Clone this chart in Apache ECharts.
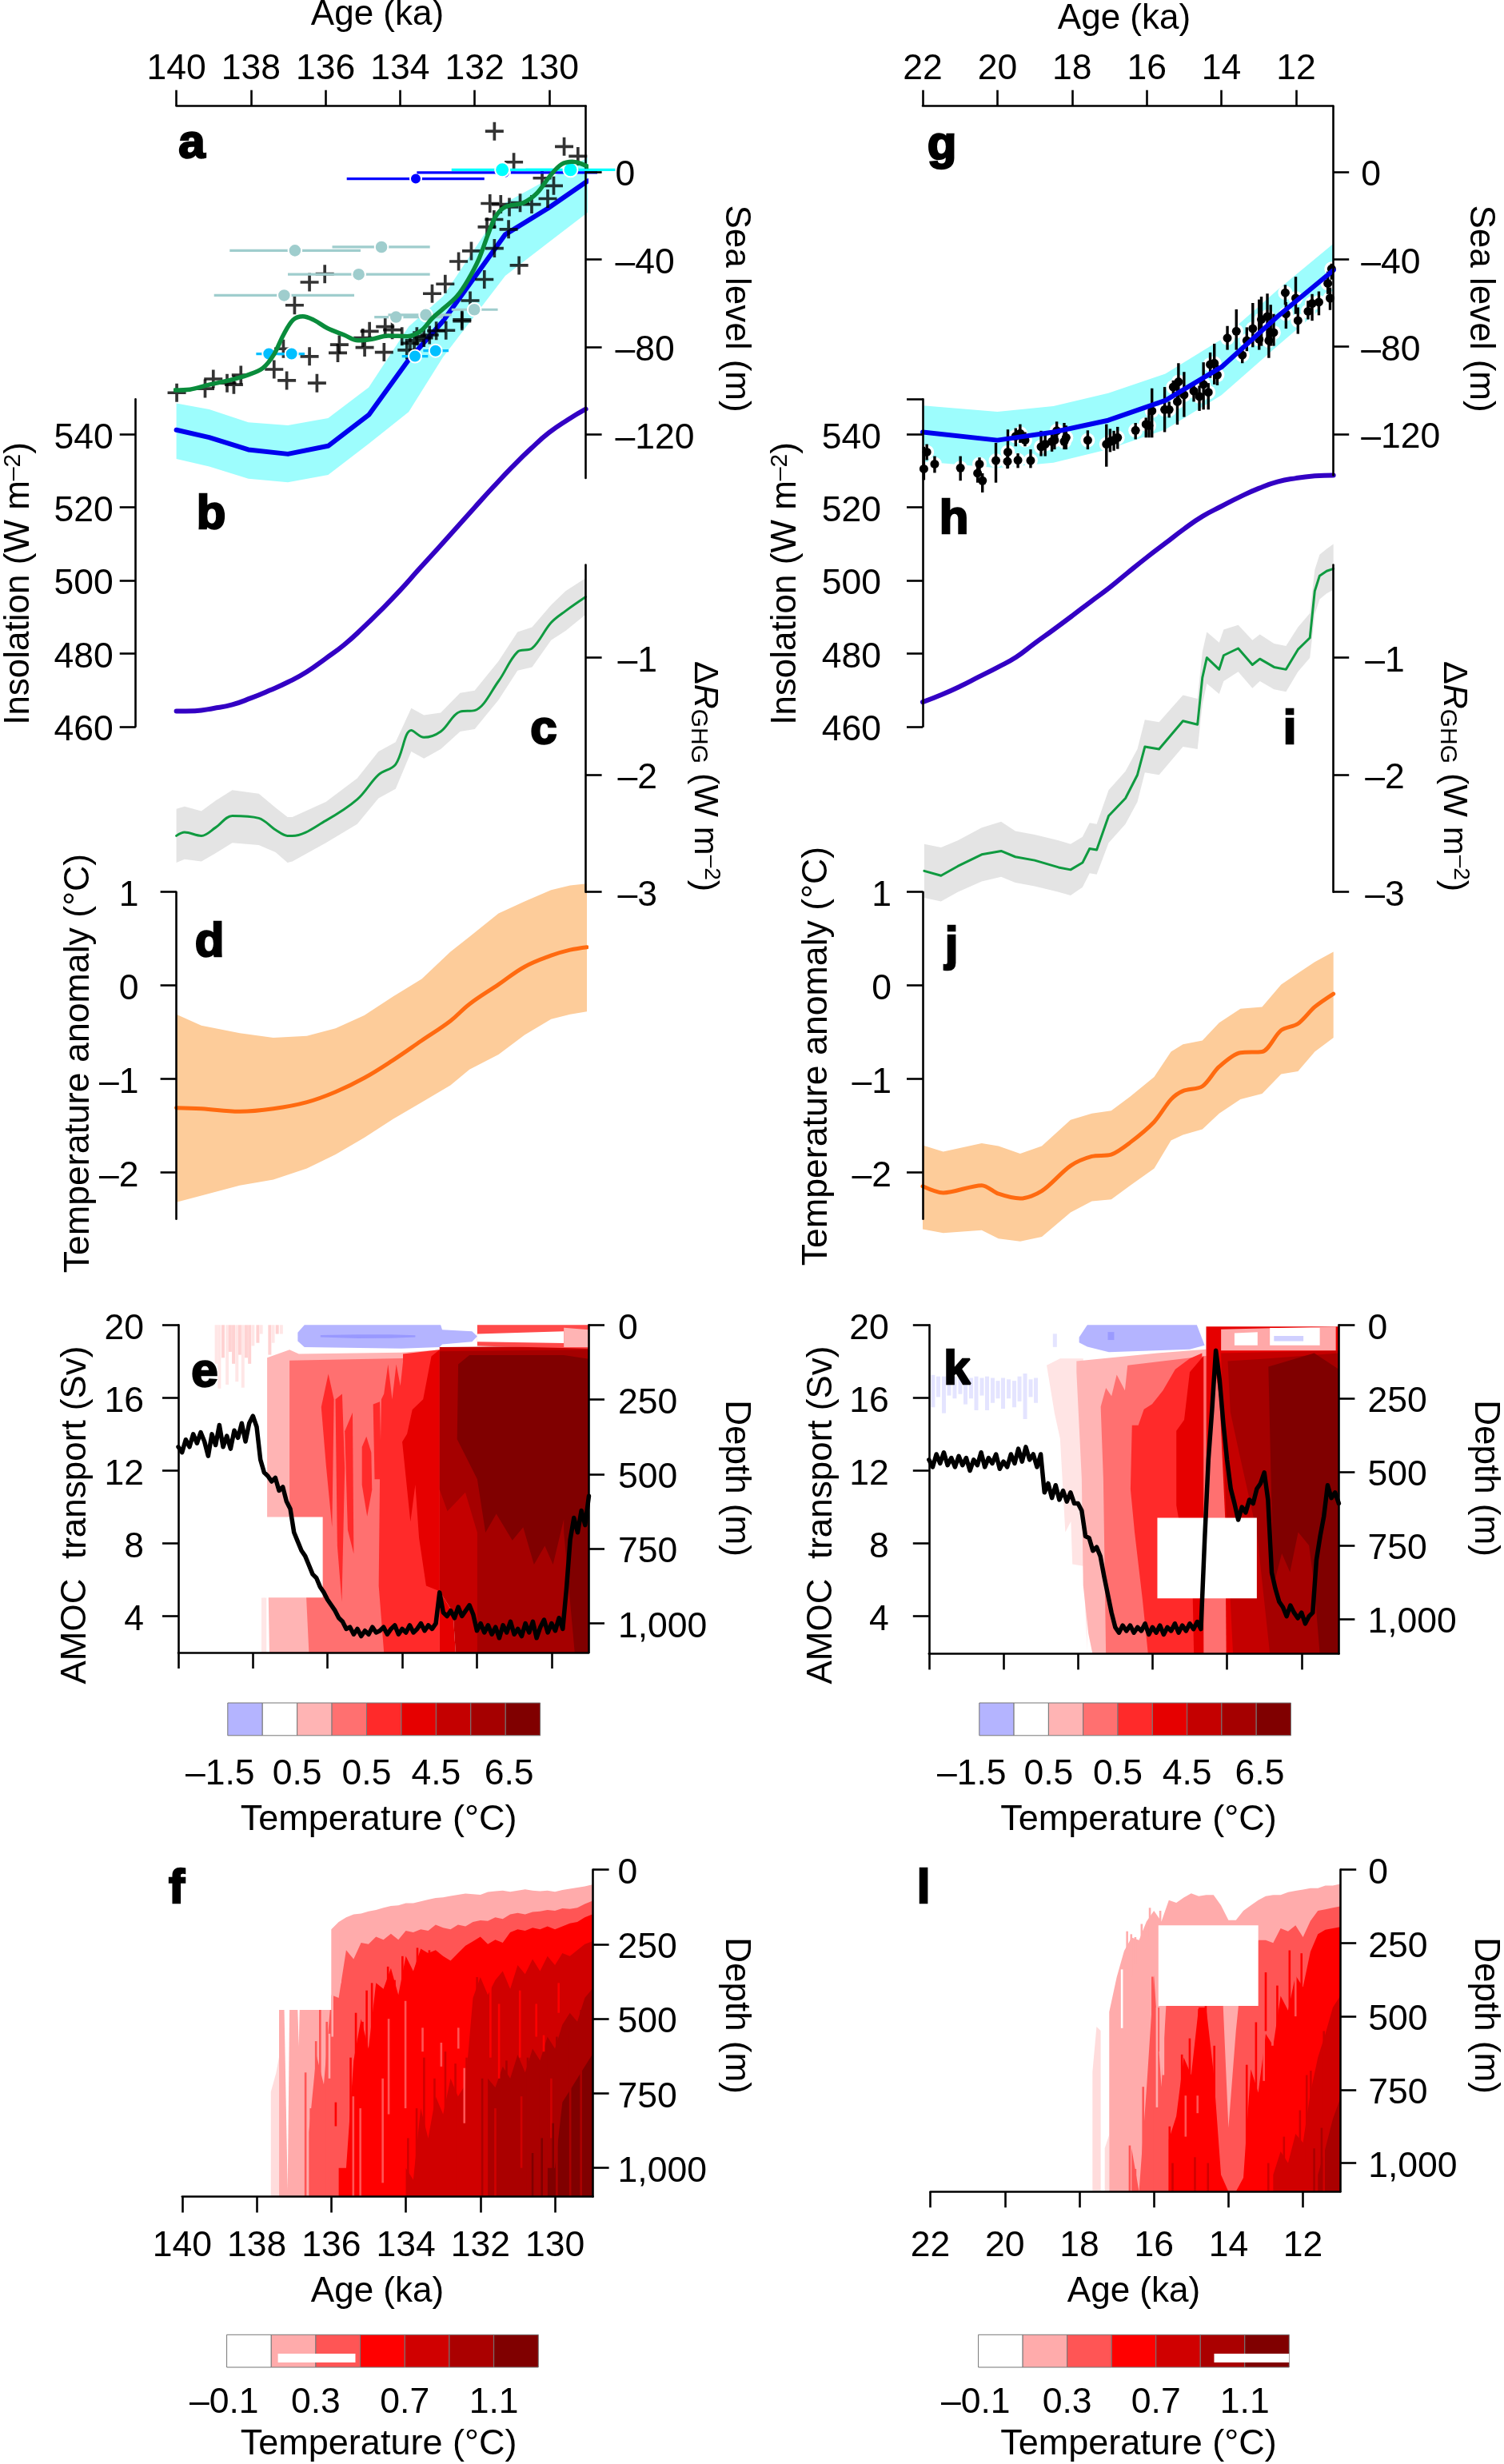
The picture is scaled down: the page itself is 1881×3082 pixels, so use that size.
<!DOCTYPE html>
<html><head><meta charset="utf-8">
<style>html,body{margin:0;padding:0;background:#fff}#c{width:1881px;height:3082px}</style>
<script src="https://cdn.jsdelivr.net/npm/echarts@6/dist/echarts.min.js"></script>
</head><body><div id="c"></div>
<script>
// ---- Panel a : sea level, penultimate deglaciation
const aCrossAge=[139.99,139.23,139.01,138.64,138.46,138.27,137.38,137.04,137.13,136.43,136.23,136.83,136.43,136.02,135.63,135.67,135.0,134.95,134.43,134.82,134.4,134.21,133.95,133.82,133.73,133.62,133.55,133.36,133.21,133.03,132.77,132.34,132.34,132.12,133.14,132.79,132.43,132.09,131.47,131.74,130.81,131.09,131.67,131.48,131.59,131.3,131.07,130.78,130.47,130.04,129.88,130.19,130.95,131.47,129.6,129.23];
const aCrossSea=[-101,-99.1,-94.7,-96.6,-97.3,-92.9,-90.3,-95.4,-80.9,-84.4,-96.6,-61,-50.5,-46.7,-79,-82.8,-75.9,-80.3,-82.5,-72.9,-70.8,-72.3,-75.2,-81.5,-78.4,-77.1,-75.2,-75.9,-74.6,-72.7,-72.5,-68.3,-67.6,-58.9,-55.7,-51.3,-41,-36.2,-35,-49.2,-42.8,-26.3,-25.2,-21.8,-14.5,-14.9,-16.1,-14.2,-14.9,-12.3,-6.4,-2.9,4.4,18.5,11.5,7.1];
const aBlueAge=[140.0,139.12,138.07,137.01,135.93,134.84,133.77,132.85,131.18,130.04,128.97];
const aBlueSea=[-118,-121.4,-127,-129,-125.3,-111.1,-85.9,-68.3,-28.7,-16.8,-4.2];
const aBandTop=[-105.8,-108.6,-114.5,-115.9,-112.6,-98.5,-70.8,-57,-14.2,-3.5,6.5];
const aBandBot=[-131.2,-134.7,-140.3,-141.9,-138.5,-124.3,-109.8,-84.7,-47.6,-32.6,-18.6];
const aGreenAge=[140.04,139.64,139.12,138.6,138.09,137.68,137.38,137.13,136.87,136.61,136.32,135.95,135.5,135.13,134.76,134.32,133.81,133.44,133.14,132.85,132.48,132.18,131.89,131.63,131.44,131.18,130.7,130.33,129.97,129.67,129.38,128.97];
const aGreenSea=[-99.8,-99.5,-97.3,-95.4,-92.9,-89.7,-83.4,-74.6,-67.7,-66.1,-67.7,-71.5,-74.6,-77.1,-76.5,-75,-75.2,-72.7,-67,-62.7,-57,-49.5,-40,-28.1,-20.5,-16.1,-14.2,-9.8,-1.7,3.4,4.6,2.4];
// each row: age, sea level, old age limit, young age limit
const aTealBars=[[136.82,-36,138.57,135.06],[134.5,-34.4,135.82,133.2],[135.11,-46.9,137.01,133.2],[137.11,-56.5,138.99,135.23],[134.11,-66.4,134.69,132.85],[133.31,-65.4,134.32,132.62],[132.01,-63,132.62,131.38]];
const aSkyBars=[[137.52,-83.2,137.86,137.13],[136.91,-83.2,137.27,136.56],[133.6,-84.3,133.95,133.25],[133.05,-81.8,133.38,132.7]];
const aBlueBars=[[133.58,-3.2,135.43,131.74],[131.2,-0.4,133.55,128.71]];
const aCyanBars=[[131.26,0.9,132.62,129.9],[129.43,0.9,130.63,128.23]];
// ---- Panel g : sea level, last deglaciation
const gBlueAge=[22.0,20.0,18.5,17.03,15.5,14.0,12.5,11.0];
const gBlueSea=[-119,-122.7,-119,-113.6,-104.5,-89.3,-66.2,-45];
const gBandTop=[-106.9,-109.7,-107.1,-101.2,-92.3,-76.6,-54.1,-32.9];
const gBandBot=[-132.4,-135.4,-133,-126.9,-117.8,-102.1,-79.6,-57.7];
const gPtAge=[21.97,21.89,21.68,20.99,20.48,20.53,20.4,20.04,19.72,19.73,19.45,19.51,19.39,19.26,19.11,18.83,18.72,18.54,18.41,18.47,18.21,18.16,17.58,17.08,16.98,16.88,16.78,16.3,16.02,15.86,15.94,15.52,15.4,15.29,15.15,15.18,15.0,14.74,14.59,14.48,14.35,14.3,14.19,14.11,13.84,13.6,13.44,13.32,13.16,12.99,12.93,12.77,12.68,12.73,12.6,12.29,12.27,12.01,11.95,11.68,11.57,11.39,11.15,11.09,11.05];
const gPtSea=[-135.8,-128.1,-133.6,-135.4,-133.6,-137.8,-141.2,-132,-128.1,-132.4,-131.8,-120.9,-119.6,-122.7,-132,-125.7,-124.5,-123.3,-118.4,-122.7,-123.3,-121.5,-122.7,-124.5,-123.3,-122.7,-121.5,-118.2,-115.4,-109.3,-116,-108.7,-108.7,-98.4,-96,-105.1,-102,-100.2,-102.7,-97.2,-100.8,-88.1,-87.5,-92.9,-76,-72.9,-83.8,-77.2,-71.7,-76.6,-67.5,-66.2,-73.5,-77.2,-73.5,-55.3,-65,-57.8,-68,-63.8,-60.2,-59.6,-51,-57.8,-44.4];
const gPtHigh=[-125.7,-124.5,-130,-130,-130.6,-134.2,-137.8,-123.9,-117.8,-126.9,-128.7,-117.2,-115.4,-119,-126.9,-118.4,-119,-118.4,-114.2,-118.4,-114.8,-116,-118.2,-115.4,-117.5,-118.4,-116.6,-114.8,-112.4,-99,-109.9,-98.4,-105.1,-95.4,-87.5,-96.6,-91.5,-97.2,-97.8,-87.1,-96.6,-82.6,-78.6,-88.1,-70.5,-62.9,-80.2,-71.1,-60,-58.4,-57.1,-55.7,-60.8,-71.1,-65,-51.7,-59.6,-48,-62,-59,-55.9,-54.7,-45.6,-52.9,-42];
const gPtLow=[-140.9,-131.8,-137.6,-141.2,-136.6,-142.1,-146.6,-142.1,-135.4,-135.7,-135.4,-125.5,-123.9,-125.5,-135.4,-130,-130,-127.9,-123.3,-126.9,-126.9,-126.9,-126.9,-134.8,-128.1,-127.5,-126.7,-122.3,-121.5,-121.5,-121.5,-119,-112.4,-102.7,-105.1,-115.6,-112.1,-105.1,-109.3,-108.7,-108.7,-94.2,-97.2,-97.6,-81.4,-81.4,-87.5,-82,-80.2,-81.4,-79.6,-77.8,-79.6,-85.1,-79.6,-60.8,-71.7,-65,-74.1,-67.5,-68.1,-65.6,-55.9,-63.2,-49.3];
// ---- Panels b, h : insolation
const bAge=[140,139.5,139,138.5,138,137.5,137,136.5,136,135.5,135,134.5,134,133.5,133,132.5,132,131.5,131,130.5,130,129.5,129.02];
const bInsol=[464.2,464.3,465,466,467.8,469.9,472.2,475,478.6,482.4,487,492,497.3,503,508.6,514.3,520,525.6,531,536,540.5,544,546.9];
const hAge=[22,21.5,21,20.5,20,19.5,19,18.5,18,17.5,17,16.5,16,15.5,15,14.5,14,13.5,13,12.5,12,11.5,11];
const hInsol=[466.7,468.7,471,473.6,476.2,479,482.8,486.5,490.3,494.2,498,502.2,506.3,510.2,514.1,517.6,520.3,522.9,525.2,527,528,528.6,528.8];
// ---- Panels c, i : greenhouse gas forcing
const cAge=[129.02,129.56,129.95,130.46,130.85,131.36,132,132.39,132.91,133.36,133.7,134.12,134.58,135.15,135.99,136.89,137.02,137.34,137.79,138.5,138.95,139.33,139.78,140];
const cMean=[-0.48,-0.6,-0.7,-0.92,-0.95,-1.2,-1.45,-1.46,-1.63,-1.68,-1.62,-1.91,-2,-2.21,-2.39,-2.52,-2.52,-2.47,-2.37,-2.35,-2.45,-2.52,-2.49,-2.52];
const cTop=[-0.32,-0.43,-0.55,-0.74,-0.78,-1.03,-1.28,-1.3,-1.47,-1.49,-1.43,-1.72,-1.8,-2.03,-2.23,-2.36,-2.36,-2.28,-2.16,-2.13,-2.22,-2.31,-2.27,-2.29];
const cBot=[-0.63,-0.77,-0.85,-1.08,-1.11,-1.36,-1.61,-1.63,-1.78,-1.86,-1.8,-2.12,-2.2,-2.42,-2.58,-2.74,-2.75,-2.66,-2.6,-2.58,-2.67,-2.74,-2.72,-2.75];
const iAge=[11.0,11.18,11.37,11.5,11.63,11.95,12.27,12.59,12.97,13.17,13.55,13.94,14.06,14.39,14.51,14.64,15.03,15.67,16.05,16.25,16.57,17.02,17.34,17.53,17.72,18.04,18.36,19.0,19.52,19.9,20.42,21.06,21.51,21.96];
const iMean=[-0.24,-0.26,-0.3,-0.43,-0.83,-0.93,-1.1,-1.08,-1.01,-1.06,-0.92,-0.98,-1.1,-1,-1.17,-1.57,-1.54,-1.78,-1.76,-2,-2.2,-2.35,-2.64,-2.63,-2.75,-2.81,-2.79,-2.73,-2.7,-2.65,-2.68,-2.78,-2.86,-2.82];
const iTop=[-0.03,-0.07,-0.12,-0.25,-0.62,-0.74,-0.9,-0.88,-0.8,-0.85,-0.72,-0.76,-0.87,-0.78,-0.95,-1.35,-1.32,-1.55,-1.53,-1.78,-1.97,-2.13,-2.42,-2.41,-2.53,-2.59,-2.56,-2.51,-2.48,-2.4,-2.45,-2.56,-2.62,-2.59];
const iBot=[-0.42,-0.45,-0.5,-0.63,-1.0,-1.12,-1.29,-1.27,-1.2,-1.26,-1.12,-1.2,-1.31,-1.22,-1.4,-1.78,-1.76,-2.0,-1.98,-2.23,-2.42,-2.58,-2.85,-2.84,-2.96,-3.03,-3.0,-2.95,-2.92,-2.87,-2.91,-3.0,-3.08,-3.05];
// ---- Panels d, j : temperature anomaly
const dAge=[140,139.33,138.3,137.4,136.5,135.73,134.96,134.19,133.42,132.65,132.14,131.36,130.66,129.95,129.44,128.99];
const dMean=[-1.31,-1.32,-1.35,-1.32,-1.25,-1.14,-0.99,-0.8,-0.59,-0.38,-0.2,0.01,0.2,0.32,0.38,0.41];
const dTop=[-0.31,-0.43,-0.51,-0.56,-0.54,-0.46,-0.32,-0.12,0.07,0.36,0.52,0.77,0.9,1.02,1.07,1.09];
const dBot=[-2.32,-2.25,-2.14,-2.08,-1.96,-1.81,-1.63,-1.43,-1.25,-1.07,-0.9,-0.74,-0.53,-0.36,-0.31,-0.28];
const jAge=[22,21.45,20.42,19.97,19.39,18.81,18.04,17.47,16.95,16.44,15.8,15.35,15.03,14.51,14.06,13.49,12.91,12.4,11.95,11.5,11.0];
const jMean=[-2.15,-2.22,-2.14,-2.23,-2.28,-2.2,-1.93,-1.83,-1.81,-1.68,-1.46,-1.22,-1.13,-1.08,-0.87,-0.72,-0.71,-0.48,-0.41,-0.23,-0.09];
const jTop=[-1.71,-1.78,-1.69,-1.72,-1.8,-1.72,-1.44,-1.37,-1.34,-1.19,-0.98,-0.71,-0.63,-0.59,-0.4,-0.25,-0.23,0.01,0.13,0.25,0.36];
const jBot=[-2.61,-2.65,-2.62,-2.71,-2.74,-2.69,-2.43,-2.31,-2.29,-2.14,-1.96,-1.66,-1.6,-1.54,-1.37,-1.22,-1.16,-0.95,-0.92,-0.71,-0.56];
// ---- Panels e, k : AMOC transport, one reading per 0.1 ka
const eAges=[140.0,139.9,139.8,139.7,139.6,139.5,139.4,139.3,139.2,139.1,139.0,138.9,138.8,138.7,138.6,138.5,138.4,138.3,138.2,138.1,138.0,137.9,137.8,137.7,137.6,137.5,137.4,137.3,137.2,137.1,137.0,136.9,136.8,136.7,136.6,136.5,136.4,136.3,136.2,136.1,136.0,135.9,135.8,135.7,135.6,135.5,135.4,135.3,135.2,135.1,135.0,134.9,134.8,134.7,134.6,134.5,134.4,134.3,134.2,134.1,134.0,133.9,133.8,133.7,133.6,133.5,133.4,133.3,133.2,133.1,133.0,132.9,132.8,132.7,132.6,132.5,132.4,132.3,132.2,132.1,132.0,131.9,131.8,131.7,131.6,131.5,131.4,131.3,131.2,131.1,131.0,130.9,130.8,130.7,130.6,130.5,130.4,130.3,130.2,130.1,130.0,129.9,129.8,129.7,129.6,129.5,129.4,129.3,129.2,129.1,129.0];
const eAmoc=[13.3,13.0,13.7,13.3,14.0,13.5,14.1,13.6,12.8,14.0,13.4,14.5,13.3,13.9,13.2,14.2,13.8,14.6,13.6,14.6,15.0,14.4,12.6,11.9,11.7,11.4,11.6,10.9,11.1,10.3,9.9,8.6,8.1,7.6,7.3,6.8,6.3,6.1,5.6,5.3,4.9,4.6,4.3,3.9,3.7,3.3,3.4,3.0,3.3,2.9,3.2,3.0,3.4,3.1,3.2,3.4,3.0,3.3,3.5,3.0,3.3,3.1,3.5,3.1,3.3,3.6,3.2,3.5,3.3,3.6,5.3,4.2,4.0,4.3,3.9,4.5,4.0,4.3,4.6,4.1,3.2,3.6,3.1,3.5,3.0,3.4,2.8,3.5,3.1,3.7,3.0,3.3,2.9,3.6,3.1,3.7,2.8,3.4,3.8,3.1,3.6,3.2,3.9,3.3,5.5,8.2,9.4,8.6,9.8,9.0,10.6];
const kAges=[22.0,21.9,21.8,21.7,21.6,21.5,21.4,21.3,21.2,21.1,21.0,20.9,20.8,20.7,20.6,20.5,20.4,20.3,20.2,20.1,20.0,19.9,19.8,19.7,19.6,19.5,19.4,19.3,19.2,19.1,19.0,18.9,18.8,18.7,18.6,18.5,18.4,18.3,18.2,18.1,18.0,17.9,17.8,17.7,17.6,17.5,17.4,17.3,17.2,17.1,17.0,16.9,16.8,16.7,16.6,16.5,16.4,16.3,16.2,16.1,16.0,15.9,15.8,15.7,15.6,15.5,15.4,15.3,15.2,15.1,15.0,14.9,14.8,14.7,14.6,14.5,14.4,14.3,14.2,14.1,14.0,13.9,13.8,13.7,13.6,13.5,13.4,13.3,13.2,13.1,13.0,12.9,12.8,12.7,12.6,12.5,12.4,12.3,12.2,12.1,12.0,11.9,11.8,11.7,11.6,11.5,11.4,11.3,11.2,11.1,11.0];
const kAmoc=[12.6,12.2,12.9,12.4,13.0,12.3,12.7,12.2,12.8,12.3,12.7,12.0,12.6,12.3,13.0,12.2,12.7,12.4,12.9,12.1,12.5,12.2,12.9,12.4,13.2,12.5,13.3,12.6,12.9,12.2,12.9,10.8,11.3,10.5,11.2,10.4,10.9,10.3,10.8,10.2,10.2,9.8,8.4,8.3,7.6,7.8,7.3,6.2,5.2,4.2,3.4,3.1,3.5,3.2,3.5,3.1,3.4,3.2,3.6,3.0,3.4,3.1,3.5,3.0,3.4,3.2,3.6,3.1,3.5,3.2,3.6,3.3,3.7,3.3,8.2,12.6,15.4,18.6,17,14.6,12.6,11.0,10.2,9.3,10.0,9.7,10.4,10.2,11.0,11.3,11.9,10.4,6.4,5.5,4.8,4.5,4.0,4.6,4.2,3.9,4.2,3.6,4.0,4.2,7.1,8.4,9.5,11.2,10.5,10.8,10.2];
// ---- Panel e field : contour outlines as [age, depth]
const eL2=[[137.62,110],[137.02,83],[136.77,97],[134.02,92],[133,83],[133,1098],[137.56,1098],[137.62,640]];
const eL3=[[137.02,119],[134,112],[133,90],[133,1098],[136.5,1098],[136.57,914],[137.02,640]];
const eL4=[[133.98,123],[134.05,204],[134.16,132],[134.27,249],[134.38,132],[134.49,231],[134.56,249],[134.6,517],[134.63,874],[134.49,1098],[133,1098],[133,83],[133.98,97]];
const eFingerA=[[136.17,275],[135.98,164],[135.83,249],[135.88,678],[136.04,472]];
const eFingerB=[[135.79,249],[135.61,231],[135.54,481],[135.62,928],[135.74,740]];
const eFingerC=[[135.54,356],[135.33,293],[135.3,767],[135.46,687]];
const eFingerD=[[135.08,409],[134.96,374],[134.83,427],[134.81,552],[134.94,642],[135.08,535]];
const eFingerE=[[134.78,266],[134.6,257],[134.56,517],[134.74,517]];
const eL5=[[133,83],[133.22,105],[133.44,249],[133.73,284],[133.87,365],[134,392],[133.78,660],[133.65,535],[133.55,714],[133.36,874],[133,892]];
const eL5b=[[133,892],[132.64,964],[132.57,1098],[133,1098]];
const eL6=[[133,74],[129,70],[129,1098],[132.57,1098],[132.64,964],[133,892]];
const eL7=[[133,88],[129,83],[129,1098],[131.99,1098],[131.99,696],[132.31,561],[132.79,624],[133,552]];
const eL8=[[132.5,132],[132.2,101],[129.67,101],[129,114],[129,1098],[129.38,1098],[129.67,696],[129.67,651],[129.96,803],[130.18,740],[130.47,803],[130.76,678],[131.05,722],[131.48,633],[131.77,696],[131.99,517],[132.28,445],[132.53,383]];
const eTopRed=[[131.99,0],[129,0],[129,79],[131.99,70]];
const eTopWhite=[[131.99,30],[129.67,21],[129.67,61],[131.99,56]];
const eTopPink=[[129.67,9],[129,16],[129,74],[129.67,74]];
const eBlue=[[136.8,25],[136.62,0],[132.97,0],[132.93,16],[132.13,21],[131.99,38],[132.13,56],[132.93,65],[133,74],[134.02,79],[136.62,74],[136.8,54]];
const eBlueDeep=[[136.19,34],[135.2,32],[134.3,32],[133.65,35],[133.65,41],[134.3,44],[135.2,45],[136.19,41]];
const eMask=[[140,644],[136.13,644],[136.13,914],[140,914]];
const eStreaks=[[138.98,0,130,1],[138.9,0,213,1],[138.8,0,110,0],[138.69,0,200,1],[138.61,0,90,0],[138.52,0,130,0],[138.43,0,190,1],[138.35,0,100,0],[138.27,0,210,1],[138.18,0,110,0],[138.09,0,130,0],[138.0,0,70,1],[137.87,0,60,0],[137.78,0,30,1],[137.55,0,100,0],[137.46,0,60,1],[137.35,0,30,0],[137.24,0,30,1],[137.73,914,1098,1],[137.68,914,1098,1]];
// ---- Panel k field
const kPale=[[18.84,137],[18.48,114],[17.86,114],[17.75,1113],[17.86,820],[18.15,814],[18.19,668],[18.34,705],[18.48,387],[18.63,300]];
const kL2=[[18.04,123],[15.87,96],[14.56,83],[14.56,1118],[17.61,1118],[17.72,1050],[17.86,886],[17.9,523],[18.04,160]];
const kL3=[[17.39,278],[17.25,214],[17.1,242],[16.96,169],[16.74,223],[16.67,137],[14.56,105],[14.56,1118],[17.25,1118],[17.32,523]];
const kL4=[[16.23,287],[16.01,269],[15.72,223],[15.39,151],[15,114],[14.67,96],[14.63,1118],[16.12,1118],[16.27,932],[16.48,705],[16.59,559],[16.55,341],[16.38,341]];
const kL5=[[15.36,360],[15.15,323],[15,160],[14.63,105],[14.63,1118],[14.89,1118],[14.92,930],[15.36,614]];
const kRBase=[[14.56,5],[11,5],[11,1118],[14.56,1118]];
const kChannel=[[14.3,160],[14.2,251],[14.05,659],[14.02,1118],[14.6,1118],[14.49,523],[14.38,251]];
const kR6=[[14.16,96],[11,87],[11,1118],[13.84,1118],[14.02,659],[14.13,251]];
const kR7=[[13.98,123],[12.89,114],[11,96],[11,1118],[12.85,1118],[13.2,705],[13.68,432],[13.91,296]];
const kR8=[[12.89,142],[11.66,96],[11,151],[11,1118],[11.51,1118],[11.66,886],[11.8,750],[12.09,705],[12.31,841],[12.53,777],[12.75,886],[12.82,523]];
const kTopPink=[[14.16,15],[11.08,5],[11.08,87],[14.16,87]];
const kTopWhiteA=[[13.8,28],[13.18,24],[13.18,69],[13.8,69]];
const kTopWhiteB=[[12.85,10],[11.51,10],[11.51,69],[12.85,69]];
const kTopBlueB=[[12.74,37],[11.95,37],[11.95,55],[12.74,55]];
const kBlue=[[17.97,42],[17.75,0],[14.81,0],[14.6,69],[15,83],[17.17,92],[17.75,74],[17.97,60]];
const kBlueDeep=[[17.2,24],[17.03,24],[17.03,51],[17.2,51]];
const kMask=[[15.87,656],[13.2,656],[13.2,930],[15.87,930]];
const kStreaks=[[21.89,170,280],[21.75,175,245],[21.6,175,300],[21.46,190,240],[21.31,175,250],[21.16,180,235],[21.02,185,270],[20.87,180,250],[20.73,175,290],[20.58,180,240],[20.44,175,290],[20.29,180,265],[20.15,190,250],[20.01,180,285],[19.86,185,250],[19.71,190,280],[19.57,175,260],[19.42,165,320],[19.27,185,245],[19.13,180,265],[18.62,30,75]];
// ---- Panels f, l field : depth of each isotherm per age column (lists end at the youngest column)
const fAges=[137.8,137.6,137.4,137.2,137.0,136.8,136.6,136.4,136.2,136.0,135.8,135.6,135.4,135.2,135.0,134.8,134.6,134.4,134.2,134.0,133.8,133.6,133.4,133.2,133.0,132.8,132.6,132.4,132.2,132.0,131.8,131.6,131.4,131.2,131.0,130.8,130.6,130.4,130.2,130.0,129.8,129.6,129.4,129.2,129.0];
const fPink=[470,470,470,470,470,470,200,200,175,160,150,147,140,135,128,122,120,112,112,106,100,95,93,88,84,80,82,84,75,72,70,74,70,66,70,72,70,74,68,64,60,56,50];
const fMid=[880,620,720,420,430,270,300,245,250,225,235,215,235,205,210,200,205,185,195,200,185,190,175,170,172,160,165,150,145,150,142,140,135,138,130,132,128,115,105];
const fRed=[1000,1000,640,500,600,380,400,330,420,290,340,265,280,270,290,305,280,255,240,225,250,235,245,210,200,205,195,200,190,200,190,180,175,160,150];
const fDark=[1000,1040,800,900,760,820,700,760,720,430,360,420,370,340,400,320,350,300,340,290,320,280,290,270,250,240];
const fDeep=[700,730,660,700,620,680,600,640,560,600,520,480,510,430,400];
const fMax=[1000,1000,780,740,700,660,620];
const fPale=[[137.62,745],[137.48,682],[137.4,628],[137.4,1096],[137.62,1096]];
const fGapA=[[137.26,470],[137.12,470],[137.17,1075]];
const fGapB=[[136.9,470],[136.85,470],[136.87,593]];
const fMask=[[140,0],[136.0,0],[136.0,470],[140,470]];
// each row: age, depth from, depth to, isotherm class
const fStreaks=[[136.69,680,1096,1],[136.55,800,1096,1],[136.41,575,1096,1],[136.3,470,1096,1],[136.12,510,1096,1],[135.88,780,860,2],[135.76,200,380,0],[135.97,400,560,0],[136.05,550,700,0],[135.48,630,1096,2],[135.34,480,1096,2],[135.16,510,1096,2],[135.05,405,900,2],[134.91,380,1000,2],[134.72,420,800,2],[134.48,325,700,2],[134.3,370,800,2],[134.09,290,700,2],[133.69,262,600,2],[133.37,270,500,2],[135.41,760,1096,1],[134.62,700,1050,1],[134.46,500,820,1],[134.01,440,800,1],[133.55,530,610,1],[132.59,530,600,1],[132.43,665,850,1],[133.05,580,660,1],[135.22,800,1096,1],[133.94,900,1096,3],[133.71,800,1096,3],[133.51,630,1096,3],[133.23,700,1096,3],[132.94,610,985,3],[132.67,650,1096,3],[132.37,630,1096,3],[132.09,360,1096,3],[131.73,360,630,2],[131.5,450,700,2],[130.94,405,630,2],[130.5,450,560,2],[130.3,555,610,2],[129.9,380,480,2],[131.95,700,1096,4],[131.3,640,1096,4],[130.73,630,1096,4],[130.45,680,1096,4],[130.23,580,1096,4],[129.95,560,1096,4],[129.59,540,1096,4],[129.3,470,1096,4],[131.6,800,1096,3],[130.9,760,1000,3],[130.1,700,900,3],[130.6,950,1096,5],[130.35,900,1096,5],[130.05,850,1096,5]];
const lAges=[17.8,17.6,17.4,17.2,17.0,16.8,16.6,16.4,16.2,16.0,15.8,15.6,15.4,15.2,15.0,14.8,14.6,14.4,14.2,14.0,13.8,13.6,13.4,13.2,13.0,12.8,12.6,12.4,12.2,12.0,11.8,11.6,11.4,11.2,11.0];
const lPink=[485,367,277,231,240,177,140,177,104,113,95,81,90,86,86,122,172,172,140,122,104,90,86,86,77,72,68,63,63,54,54,49];
const lMid=[950,1097,750,360,740,300,300,300,300,300,300,300,300,880,550,300,300,240,240,250,200,210,190,230,175,140,135,130,125];
const lRed=[920,840,640,700,470,470,690,1040,1097,1097,1050,680,760,560,600,430,480,360,400,280,220,205,200,195];
const lDark=[1040,960,1000,900,930,760,640,560,470,430];
const lDeep=[1040,950,850,780];
const lPaleA=[[17.65,690],[17.54,535],[17.43,549],[17.43,1094],[17.65,1094]];
const lPaleB=[[17.32,949],[17.2,904],[17.2,1094],[17.32,1094]];
const lMask=[[15.88,190],[13.2,190],[13.2,464],[15.88,464]];
const lStreaks=[[16.72,210,300,0],[16.61,220,365,0],[16.5,230,320,0],[16.33,185,275,0],[16.22,210,300,0],[16.11,130,230,0],[15.83,140,220,0],[16.86,340,540,6],[16.04,365,1097,1],[16.29,740,1097,1],[16.65,940,1097,1],[16.5,1020,1097,1],[15.88,470,620,1],[15.92,470,810,0],[15.75,470,700,0],[15.58,875,1097,2],[15.25,630,1097,2],[15.04,575,910,2],[14.79,475,820,2],[14.61,465,640,2],[14.38,600,900,2],[13.51,665,1097,2],[13.26,520,910,2],[13.0,350,550,2],[12.69,395,730,2],[12.36,275,640,2],[12.04,285,460,2],[13.4,760,900,2],[15.15,770,910,1],[14.83,770,830,1],[13.05,560,720,1],[12.82,400,600,1],[12.2,360,500,1],[15.5,1000,1097,3],[14.9,980,1097,3],[14.55,1000,1097,3],[12.93,1000,1097,3],[12.51,910,1097,3],[12.08,820,1097,3],[11.79,685,1097,3],[11.44,550,1097,3],[11.9,700,1000,3],[11.7,950,1097,4],[11.5,880,1097,4]];
// ---- Legends and ticks
const legendWarm=['#b4b4ff','#ffffff','#ffb4b4','#ff7070','#ff2a2a','#e60000','#c40000','#a50000','#800000'];
const legendWarmAt=[-0.22,2,4,6,8.1];
const legendWarmText=['–1.5','0.5','0.5','4.5','6.5'];
const legendDeep=['#ffffff','#ffabab','#ff5555','#ff0000','#d00000','#aa0000','#800000'];
const legendDeepAt=[-0.06,2,4,6];
const legendDeepText=['–0.1','0.3','0.7','1.1'];
const ticksOld=[140,138,136,134,132,130];
const ticksNew=[22,20,18,16,14,12];
const ticksSea=[0,-40,-80,-120];
const ticksInsol=[540,520,500,480,460];
const ticksInsolTop=[540,520,500,480,460,549.6];
const ticksGhg=[-1,-2,-3];
const ticksTemp=[1,0,-1,-2];
const ticksAmoc=[20,16,12,8,4];
const ticksDepth=[0,250,500,750,1000];

const FONT='"Liberation Sans",Arial,sans-serif';
const LINE={color:'#000',width:2.6};
const STREAK=['#ffabab','#ff5555','#ff0000','#d00000','#aa0000','#800000','#ffffff'];
const grids=[],xAxes=[],yAxes=[],series=[],graphics=[];
const zip=(a,b)=>a.map((v,i)=>[v,b[i]]);
const fmt=v=>v>=1000?'1,000':String(v).replace('-','–');
const TXT={fontSize:44.5,fontFamily:FONT,color:'#000'};
function axis(extra,ticks,labels,margin,lowered){
  const lab=labels||ticks;
  const axisLabel=Object.assign({show:!!lab,margin:margin||0,customValues:lab||[]},TXT,
    lowered?{formatter:v=>'{v|'+fmt(v)+'}',rich:{v:Object.assign({padding:[10,0,0,0]},TXT)}}:{formatter:fmt});
  return Object.assign({type:'value',z:5,splitLine:{show:false},
    axisLine:{show:true,onZero:false,lineStyle:LINE},
    axisTick:{show:!!ticks,length:20,lineStyle:LINE,customValues:ticks||[]},
    axisLabel},extra);
}
function panel(left,right,top,bottom,xr,xCfg,yCfgs){
  const g=grids.length;
  grids.push({left,top,width:right-left,height:bottom-top,containLabel:false});
  const xi=xAxes.length;
  xAxes.push(xCfg?axis({gridIndex:g,min:xr[0],max:xr[1],inverse:true,position:xCfg.pos},xCfg.ticks,xCfg.ticks,xCfg.margin)
    :{type:'value',gridIndex:g,min:xr[0],max:xr[1],inverse:true,show:false});
  const ys=yCfgs.map(c=>{
    const yi=yAxes.length;
    yAxes.push(axis({gridIndex:g,min:c.min,max:c.max,position:c.pos,inverse:!!c.inverse,offset:c.offset||0},c.ticks,c.labels,c.margin,true));
    return yi;
  });
  return {xi,ys};
}
function polys(p,yi,layers,z){
  const mid=layers[0].pts[0];
  series.push({type:'custom',coordinateSystem:'cartesian2d',xAxisIndex:p.xi,yAxisIndex:yi,silent:true,z:z||2,
    data:[mid],encode:{x:0,y:1},
    renderItem:(par,api)=>({type:'group',children:layers.map(l=>({type:'polygon',
      shape:{points:l.pts.map(q=>api.coord(q))},style:{fill:l.color}}))})});
}
function streaks(p,yi,rows,colors,width){
  series.push({type:'custom',coordinateSystem:'cartesian2d',xAxisIndex:p.xi,yAxisIndex:yi,silent:true,z:2,data:rows,encode:{x:0,y:1},
    renderItem:(par,api)=>{const a=api.value(0),t=api.coord([a,api.value(1)]),b=api.coord([a,api.value(2)]);
      return {type:'line',shape:{x1:t[0],y1:t[1],x2:b[0],y2:b[1]},style:{stroke:colors[rows[par.dataIndex][3]||0],lineWidth:width}};}});
}
function band(p,yi,xs,top,bot,color,z){
  polys(p,yi,[{color,pts:zip(xs,top).concat(zip(xs,bot).reverse())}],z);
}
function line(p,yi,xs,ys,color,width,smooth,z){
  series.push({type:'line',xAxisIndex:p.xi,yAxisIndex:yi,data:zip(xs,ys),showSymbol:false,symbol:'none',clip:false,silent:true,
    smooth:smooth||false,z:z||3,lineStyle:{color,width,cap:'round',join:'round'}});
}
function hBars(p,yi,rows,color,r,z){
  series.push({type:'custom',coordinateSystem:'cartesian2d',xAxisIndex:p.xi,yAxisIndex:yi,silent:true,z,data:rows,encode:{x:0,y:1},
    renderItem:(par,api)=>{
      const c=api.coord([api.value(0),api.value(1)]),a=api.coord([api.value(2),api.value(1)]),b=api.coord([api.value(3),api.value(1)]);
      return {type:'group',children:[
        {type:'line',shape:{x1:a[0],y1:a[1],x2:b[0],y2:b[1]},style:{stroke:color,lineWidth:3.2}},
        {type:'circle',shape:{cx:c[0],cy:c[1],r},style:{fill:color,stroke:'#fff',lineWidth:2}}]};
    }});
}
function columns(ages,arr,bottom){
  const xs=ages.slice(-arr.length);
  return zip(xs,arr).concat([[xs[xs.length-1],bottom],[xs[0],bottom]]);
}
function legend(left,cell,top,bottom,colors,at,text,margin){
  const p=panel(left-cell,left+cell*colors.length,top,bottom,[0,1],null,[{min:0,max:1}]);
  yAxes[p.ys[0]].show=false;
  const g=grids.length-1;
  xAxes[p.xi]={type:'value',gridIndex:g,min:-1,max:colors.length,z:5,position:'bottom',splitLine:{show:false},
    axisLine:{show:false},axisTick:{show:false},
    axisLabel:Object.assign({show:true,customValues:at,margin,formatter:v=>text[at.indexOf(v)]},TXT)};
  series.push({type:'custom',coordinateSystem:'cartesian2d',xAxisIndex:p.xi,yAxisIndex:p.ys[0],silent:true,
    data:colors.map((c,i)=>[i,0]),encode:{x:0,y:1},
    renderItem:(par,api)=>{const i=api.value(0),a=api.coord([i,1]),b=api.coord([i+1,0]);
      return {type:'rect',shape:{x:a[0],y:a[1],width:b[0]-a[0],height:b[1]-a[1]},style:{fill:colors[i],stroke:'#777',lineWidth:1}};}});
  return p;
}
function title(text,x,y,rot,rich,size){
  const el={type:'text',x,y,rotation:rot||0,z:20,silent:true,style:{text,align:'center',verticalAlign:'middle',
    font:(size||44)+'px '+FONT,fill:'#000'}};
  if(rich) el.style.rich=rich;
  graphics.push(el);
}
function letter(t,x,y){
  graphics.push({type:'text',x,y,z:21,silent:true,style:{text:t,align:'center',verticalAlign:'middle',
    font:'bold 60px '+FONT,fill:'#000',stroke:'#000',lineWidth:2.4}});
}
const CW=-Math.PI/2,CCW=Math.PI/2;
const richIns={n:{fontSize:44,fontFamily:FONT,color:'#000'},s:{fontSize:30,fontFamily:FONT,color:'#000',verticalAlign:'top',padding:[0,0,14,0]}};
const richGhg={n:{fontSize:43,fontFamily:FONT,color:'#000'},i:{fontSize:43,fontFamily:FONT,fontStyle:'italic',color:'#000'},
  g:{fontSize:30,fontFamily:FONT,color:'#000',verticalAlign:'bottom',padding:[16,0,0,0]},s:{fontSize:28,fontFamily:FONT,color:'#000',verticalAlign:'top',padding:[0,0,14,0]}};
const COL={cyan:'#9dfdfd',blue:'#0000ee',green:'#0a8c3c',purple:'#3300c4',gray:'#e4e4e4',green2:'#0f9a40',orange:'#ff6a10',peach:'#fdcc9a'};

// ---------- left column
const ageL=[129.02,140];
const pa=panel(220.6,732.6,132.7,598,ageL,{pos:'top',ticks:ticksOld,margin:23},[{min:-140,max:30,pos:'right',ticks:ticksSea,labels:ticksSea,margin:37}]);
band(pa,pa.ys[0],aBlueAge,aBandTop,aBandBot,COL.cyan);
line(pa,pa.ys[0],aBlueAge,aBlueSea,COL.blue,6);
series.push({type:'scatter',xAxisIndex:pa.xi,yAxisIndex:pa.ys[0],data:zip(aCrossAge,aCrossSea),clip:false,silent:true,z:4,
  symbol:'path://M8.4,0h3.2v8.4h8.4v3.2h-8.4v8.4h-3.2v-8.4h-8.4v-3.2h8.4z',symbolSize:23,itemStyle:{color:'#000'}});
hBars(pa,pa.ys[0],aTealBars,'#9fcdcd',8.3,5);
hBars(pa,pa.ys[0],aBlueBars,'#0000ff',7,5);
hBars(pa,pa.ys[0],aSkyBars,'#00bfff',8,5);
hBars(pa,pa.ys[0],aCyanBars,'#00ffff',9,6);
line(pa,pa.ys[0],aGreenAge,aGreenSea,COL.green,5.5,0.35,7);
const pb=panel(220.6,732.6,499.4,908.8,ageL,null,[{min:460,max:549.6,pos:'left',ticks:ticksInsol,labels:ticksInsol,margin:28,offset:50.9}]);
line(pb,pb.ys[0],bAge,bInsol,COL.purple,6,true);
const pc=panel(220.6,732.6,706.6,1115.7,ageL,null,[{min:-3,max:-0.2075,pos:'right',ticks:ticksGhg,labels:ticksGhg,margin:40}]);
band(pc,pc.ys[0],cAge,cTop,cBot,COL.gray);
line(pc,pc.ys[0],cAge,cMean,COL.green2,3,0.35);
const pd=panel(220.6,732.6,1115.7,1524.7,ageL,null,[{min:-2.5,max:1,pos:'left',ticks:ticksTemp,labels:ticksTemp,margin:47}]);
band(pd,pd.ys[0],dAge,dTop,dBot,COL.peach);
line(pd,pd.ys[0],dAge,dMean,COL.orange,5,0.4);
const pe=panel(223,736,1657.3,2067,[129.01,140],{pos:'bottom',ticks:ticksOld},[
  {min:2,max:20,pos:'left',ticks:ticksAmoc,labels:ticksAmoc,margin:43},
  {min:0,max:1098,pos:'right',inverse:true,ticks:ticksDepth,labels:ticksDepth,margin:37}]);
xAxes[pe.xi].axisLabel.show=false;
streaks(pe,pe.ys[1],eStreaks,['#ffd2d2','#ffe6e6'],4);
polys(pe,pe.ys[1],[
 {color:'#ffb4b4',pts:eL2},{color:'#ff7070',pts:eL3},{color:'#ff2a2a',pts:eL4},
 {color:'#ff2a2a',pts:eFingerA},{color:'#ff2a2a',pts:eFingerB},{color:'#ff2a2a',pts:eFingerC},{color:'#ff2a2a',pts:eFingerD},{color:'#ff2a2a',pts:eFingerE},
 {color:'#e60000',pts:eL5},{color:'#e60000',pts:eL5b},{color:'#c40000',pts:eL6},{color:'#a50000',pts:eL7},{color:'#800000',pts:eL8},
 {color:'#ff4a4a',pts:eTopRed},{color:'#ffffff',pts:eTopWhite},{color:'#ffb4b4',pts:eTopPink},
 {color:'#b4b4ff',pts:eBlue},{color:'#9898ff',pts:eBlueDeep},{color:'#ffffff',pts:eMask}]);
line(pe,pe.ys[0],eAges,eAmoc,'#000',5.5,false,6);
legend(284.8,43.43,2130,2170.8,legendWarm,legendWarmAt,legendWarmText,26);
const pf=panel(227.8,741.6,2338.6,2747.5,[128.98,140],{pos:'bottom',ticks:ticksOld,margin:40},[{min:0,max:1096,pos:'right',inverse:true,ticks:ticksDepth,labels:ticksDepth,margin:31}]);
polys(pf,pf.ys[0],[
 {color:'#ffdcdc',pts:fPale},
 {color:'#ffabab',pts:columns(fAges,fPink,1096)},{color:'#ff5555',pts:columns(fAges,fMid,1096)},
 {color:'#ff0000',pts:columns(fAges,fRed,1096)},{color:'#d00000',pts:columns(fAges,fDark,1096)},
 {color:'#aa0000',pts:columns(fAges,fDeep,1096)},{color:'#800000',pts:columns(fAges,fMax,1096)}]);
streaks(pf,pf.ys[0],fStreaks,STREAK,2.6);
polys(pf,pf.ys[0],[{color:'#ffffff',pts:fGapA},{color:'#ffffff',pts:fGapB},{color:'#ffffff',pts:fMask}]);
const lgF=legend(283.6,55.67,2920.3,2961,legendDeep,legendDeepAt,legendDeepText,22);
polys(lgF,lgF.ys[0],[{color:'#fff',pts:[[1.15,0.42],[2.89,0.42],[2.89,0.15],[1.15,0.15]]}],4);

// ---------- right column
const ageR=[11.01,22];
const pg=panel(1154,1667.2,132.7,594.4,ageR,{pos:'top',ticks:ticksNew,margin:23},[{min:-138.7,max:30,pos:'right',ticks:ticksSea,labels:ticksSea,margin:35}]);
band(pg,pg.ys[0],gBlueAge,gBandTop,gBandBot,COL.cyan);
const gRows=gPtAge.map((a,i)=>[a,gPtSea[i],gPtHigh[i],gPtLow[i]]);
series.push({type:'custom',coordinateSystem:'cartesian2d',xAxisIndex:pg.xi,yAxisIndex:pg.ys[0],silent:true,z:3,data:gRows,encode:{x:0,y:1},
  renderItem:(par,api)=>{const c=api.coord([api.value(0),api.value(1)]);return {type:'circle',shape:{cx:c[0],cy:c[1],r:9},style:{fill:'#fff'}};}});
series.push({type:'custom',coordinateSystem:'cartesian2d',xAxisIndex:pg.xi,yAxisIndex:pg.ys[0],silent:true,z:3,data:gRows,encode:{x:0,y:1},
  renderItem:(par,api)=>{const v=api.value(0),c=api.coord([v,api.value(1)]),h=api.coord([v,api.value(2)]),l=api.coord([v,api.value(3)]);
    return {type:'group',children:[{type:'line',shape:{x1:h[0],y1:h[1],x2:l[0],y2:l[1]},style:{stroke:'#000',lineWidth:3.4}},
      {type:'circle',shape:{cx:c[0],cy:c[1],r:5.5},style:{fill:'#000'}}]};}});
line(pg,pg.ys[0],gBlueAge,gBlueSea,COL.blue,6,false,4);
const ph=panel(1154,1667.2,499.4,908.8,ageR,null,[{min:460,max:549.6,pos:'left',ticks:ticksInsolTop,labels:ticksInsol,margin:52}]);
line(ph,ph.ys[0],hAge,hInsol,COL.purple,6,true);
const pi=panel(1154,1667.2,706.6,1115.7,ageR,null,[{min:-3,max:-0.2075,pos:'right',ticks:ticksGhg,labels:ticksGhg,margin:40}]);
band(pi,pi.ys[0],iAge,iTop,iBot,COL.gray);
line(pi,pi.ys[0],iAge,iMean,COL.green2,3);
const pj=panel(1154,1667.2,1115.7,1524.7,ageR,null,[{min:-2.5,max:1,pos:'left',ticks:ticksTemp,labels:ticksTemp,margin:39}]);
band(pj,pj.ys[0],jAge,jTop,jBot,COL.peach);
line(pj,pj.ys[0],jAge,jMean,COL.orange,5,0.3);
const pk=panel(1161.8,1674.4,1657.3,2068.4,[11.0,22],{pos:'bottom',ticks:ticksNew},[
  {min:1.95,max:20,pos:'left',ticks:ticksAmoc,labels:ticksAmoc,margin:50},
  {min:0,max:1118,pos:'right',inverse:true,ticks:ticksDepth,labels:ticksDepth,margin:36}]);
xAxes[pk.xi].axisLabel.show=false;
streaks(pk,pk.ys[1],kStreaks,['#e4e4ff'],5);
polys(pk,pk.ys[1],[
 {color:'#ffe4e4',pts:kPale},
 {color:'#ffb4b4',pts:kL2},{color:'#ff7070',pts:kL3},{color:'#ff2a2a',pts:kL4},{color:'#e60000',pts:kL5},
 {color:'#e60000',pts:kRBase},{color:'#c40000',pts:kR6},{color:'#a50000',pts:kR7},{color:'#800000',pts:kR8},{color:'#ff7070',pts:kChannel},
 {color:'#ffa8a8',pts:kTopPink},{color:'#ffffff',pts:kTopWhiteA},{color:'#ffffff',pts:kTopWhiteB},{color:'#d0d0ff',pts:kTopBlueB},
 {color:'#b4b4ff',pts:kBlue},{color:'#9a9aff',pts:kBlueDeep},{color:'#ffffff',pts:kMask}]);
line(pk,pk.ys[0],kAges,kAmoc,'#000',5.5,false,6);
legend(1224.8,43.3,2130,2170.8,legendWarm,legendWarmAt,legendWarmText,26);
const pl=panel(1163.6,1676.2,2338.6,2741.2,[11.0,22],{pos:'bottom',ticks:ticksNew,margin:46},[{min:0,max:1097,pos:'right',inverse:true,ticks:ticksDepth,labels:ticksDepth,margin:35}]);
polys(pl,pl.ys[0],[
 {color:'#ffdcdc',pts:lPaleA},{color:'#ffdcdc',pts:lPaleB},
 {color:'#ffabab',pts:columns(lAges,lPink,1097)},{color:'#ff5555',pts:columns(lAges,lMid,1097)},
 {color:'#ff0000',pts:columns(lAges,lRed,1097)},{color:'#d00000',pts:columns(lAges,lDark,1097)},
 {color:'#aa0000',pts:columns(lAges,lDeep,1097)}]);
streaks(pl,pl.ys[0],lStreaks,STREAK,2.6);
polys(pl,pl.ys[0],[{color:'#ffffff',pts:lMask}]);
const lgL=legend(1223.6,55.53,2920.3,2961,legendDeep,legendDeepAt,legendDeepText,22);
polys(lgL,lgL.ys[0],[{color:'#fff',pts:[[5.31,0.42],[7,0.42],[7,0.15],[5.31,0.15]]}],4);

// ---------- text
title('Age (ka)',472,19);title('Age (ka)',1406,24);
title('Age (ka)',472,2867);title('Age (ka)',1418,2867);
title('Sea level (m)',920,386,CW);title('Sea level (m)',1851,386,CW);
const insol='{n|Insolation (W m}{s|–2}{n|)}',ghg='{n|Δ}{i|R}{g|GHG}{n| (W m}{s|–2}{n|)}';
title(insol,24,730,CCW,richIns);title(insol,983,730,CCW,richIns);
title(ghg,881,971,CW,richGhg);title(ghg,1818,971,CW,richGhg);
title('Temperature anomaly (°C)',99,1330,CCW,null,44.7);title('Temperature anomaly (°C)',1022,1321,CCW,null,44.7);
title('AMOC  transport (Sv)',95,1895,CCW);title('AMOC  transport (Sv)',1028,1895,CCW);
title('Depth (m)',920,1849,CW);title('Depth (m)',1857,1849,CW);
title('Depth (m)',920,2521,CW);title('Depth (m)',1857,2521,CW);
title('Temperature (°C)',473.6,2277,0,null,45);title('Temperature (°C)',1424,2277,0,null,45);
title('Temperature (°C)',473.6,3058,0,null,45);title('Temperature (°C)',1424,3058,0,null,45);
[['a',240,180],['b',264,644],['c',680,913],['d',262,1179],['e',256,1717],['f',221,2363],
 ['g',1178,182],['h',1193,650],['i',1613,913],['j',1190,1184],['k',1197,1714],['l',1155,2363]].forEach(l=>letter(l[0],l[1],l[2]));

const chart=echarts.init(document.getElementById('c'),null,{renderer:'canvas'});
chart.setOption({animation:false,backgroundColor:'#fff',grid:grids,xAxis:xAxes,yAxis:yAxes,series,graphic:{elements:graphics}});
</script></body></html>
